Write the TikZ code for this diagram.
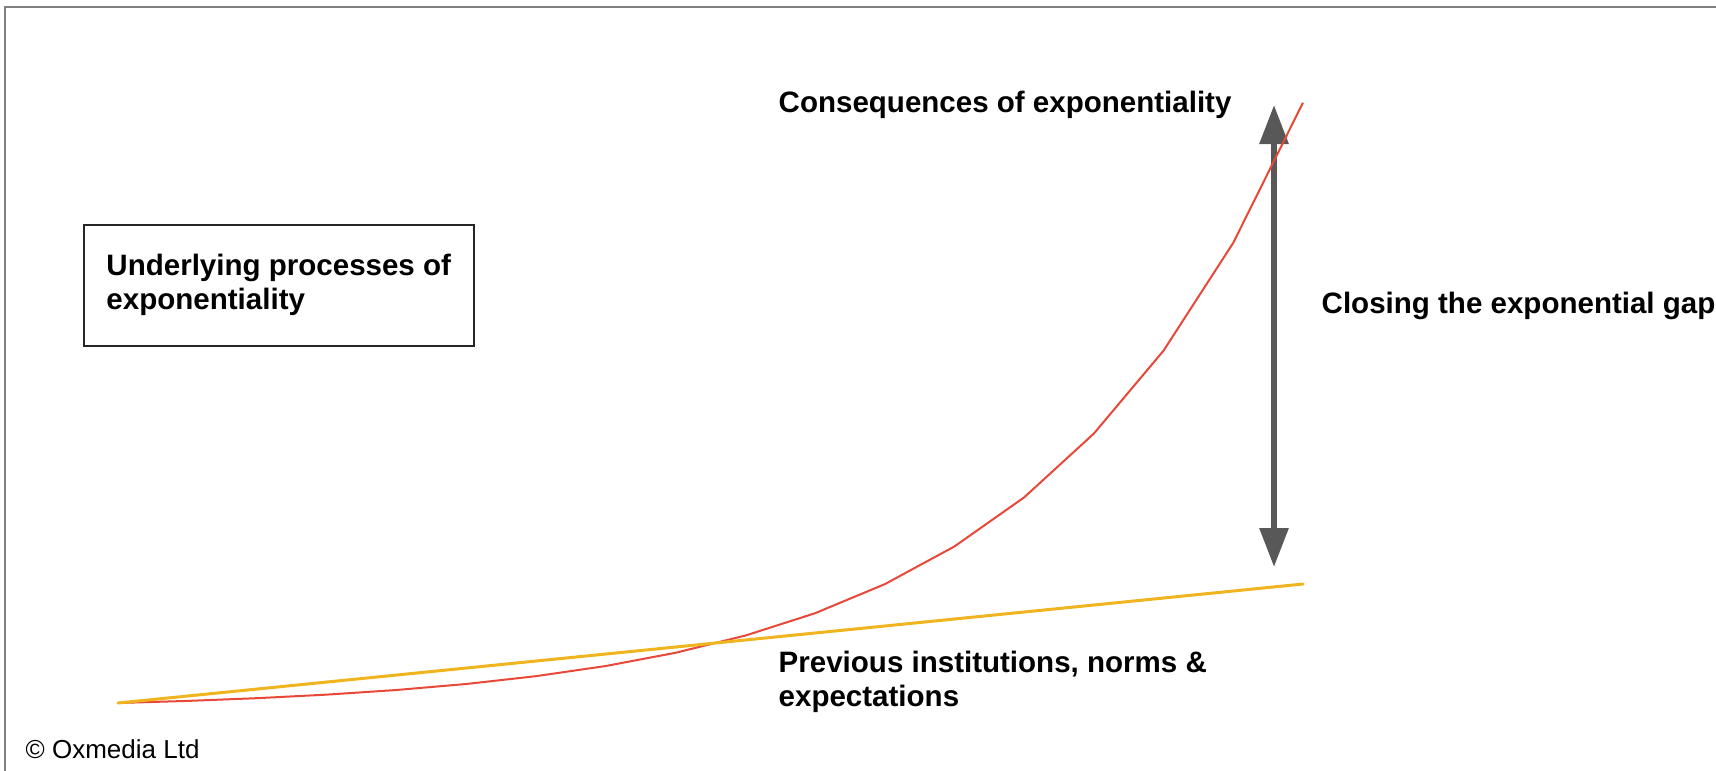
\documentclass[tikz,border=0pt]{standalone}
\usepackage{fontspec}
\setmainfont{Liberation Sans}
\usepackage{xcolor}
\usepackage{tikz}
\usetikzlibrary{arrows.meta, positioning}
\definecolor{exred}{RGB}{231,72,56}
\definecolor{linyellow}{RGB}{240,180,30}
\definecolor{gapgray}{RGB}{88,88,88}
\tikzset{
  curvetext/.style={anchor=base west, inner sep=0pt, align=left,
                    font=\fontsize{8.4}{9.5}\selectfont\bfseries},
  procbox/.style={draw=black!85, line width=0.15mm, inner sep=0pt, align=left,
                  minimum width=39mm, minimum height=12.1mm,
                  font=\fontsize{8.4}{9.7}\selectfont\bfseries},
  gaparrow/.style={{Triangle[length=3.9mm,width=2.8mm]}-{Triangle[length=3.9mm,width=2.8mm]},
                   line width=0.6mm, draw=gapgray, fill=gapgray},
  expcurve/.style={draw=exred, line width=0.2mm, line join=round},
  linline/.style={draw=linyellow, line width=0.3mm, line cap=round},
  frameline/.style={draw=black!50, line width=0.2mm},
  credit/.style={anchor=base west, inner sep=0pt, font=\fontsize{7.4}{8.6}\selectfont},
}
\begin{document}
\begin{tikzpicture}[x=0.1mm, y=-0.1mm]

  \useasboundingbox (0,0) rectangle (1716,770);
  \clip (0,0) rectangle (1716,770);

  %% Frame
  \draw[frameline] (5,780) |- (1730,7);

  %% Box
  \node[procbox, anchor=north west] (process) at (83,224)
    {Underlying processes of\\exponentiality};

  %% Gap arrow
  \coordinate (gaptop) at (1274,105);
  \coordinate (gapbot) at (1274,567);
  \draw[gaparrow] (gaptop) -- (gapbot);

  %% Curves
  \coordinate (origin) at (118,703);
  \coordinate (linend) at (1303,584);
  \draw[expcurve] plot[domain=0:17, samples=18] ({118+69.7*\x}, {703-7.02*(1.3^\x-1)});
  \draw[linline] (origin) -- (linend);

  %% Labels
  \node[curvetext] (conseq) at (778,112) {Consequences of exponentiality};
  \node[curvetext] (closing) at (1321,313) {Closing the exponential gap};
  \node[curvetext] (previous) at (778,706) {Previous institutions, norms \&\\expectations};
  \node[credit] (copy) at (25,758) {© Oxmedia Ltd};

\end{tikzpicture}
\end{document}
